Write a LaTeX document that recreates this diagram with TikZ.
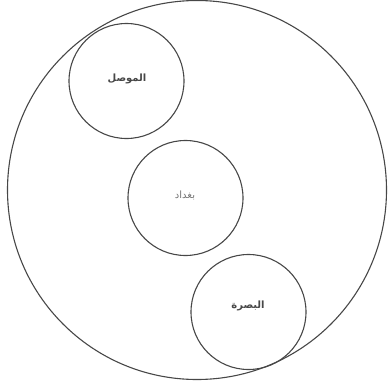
\documentclass[tikz,border=0pt]{standalone}
\usepackage{fontspec}
\newfontfamily\arabicfont[Script=Arabic]{DejaVu Sans}
\TeXXeTstate=1
\begin{document}
\begin{tikzpicture}[x=1pt,y=-1pt,
  ring/.style={circle,draw=black!72,line width=1.1pt,inner sep=0pt},
  city/.style={ring,minimum size=115pt},
  lbl/.style={font=\arabicfont\fontsize{10}{11}\selectfont\bfseries,text=black!72},
  lbllight/.style={font=\arabicfont\fontsize{10}{11}\selectfont,text=black!55}]
\useasboundingbox (0,0) rectangle (388,388);
\node[ring,minimum size=379pt] (iraq) at (197,190) {};
\node[city] (mosul) at (126.5,81) {};
\node[city] (baghdad) at (185.5,198) {};
\node[city] (basra) at (248.5,312) {};
\node[lbl] (tmosul) at (127,79) {\beginR الموصل\endR};
\node[lbllight] (tbaghdad) at (185,195) {\beginR بغداد\endR};
\node[lbl] (tbasra) at (248,306) {\beginR البصرة\endR};
\end{tikzpicture}
\end{document}
